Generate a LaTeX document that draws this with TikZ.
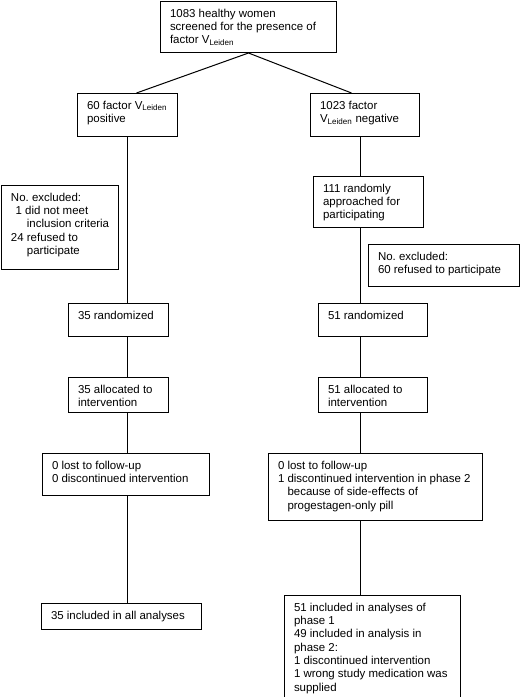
\documentclass[tikz,border=0pt]{standalone}
\usepackage{fontspec}
\setmainfont{Liberation Sans}
\frenchspacing
\newdimen\pxu \pxu=0.75pt
\newdimen\padx \padx=9.5\pxu
\newdimen\pady \pady=7.5\pxu
\newcommand\pb[3]{\parbox[t][\dimexpr#2\pxu-2\pady\relax][t]{\dimexpr#1\pxu-2\padx\relax}{\raggedright #3}}
\begin{document}
\begin{tikzpicture}[x=0.75pt,y=-0.75pt,
  fbox/.style={draw, line width=0.75pt, anchor=north west, inner xsep=\padx, inner ysep=\pady,
    font=\fontsize{8.6}{10}\selectfont},
  conn/.style={line width=0.75pt}]
\clip (0,0) rectangle (520,697);
\fill[white] (0,0) rectangle (520,697);
% boxes
\node[fbox] (top) at (160,1) {\pb{176}{51}{1083 healthy women\\\mbox{screened for the presence of}\\factor V\textsubscript{Leiden}}};
\node[fbox] (pos) at (77,93) {\pb{100}{43}{\mbox{60 factor V\textsubscript{Leiden}}\\positive}};
\node[fbox] (neg) at (310,93) {\pb{109}{43}{1023 factor\\\mbox{V\textsubscript{Leiden} negative}}};
\node[fbox] (exclL) at (1,185) {\pb{117}{84}{No. excluded:\\\hspace*{0.4em}1 did not meet\\\hspace*{1.39em}\mbox{inclusion criteria}\\24 refused to\\\hspace*{1.39em}participate}};
\node[fbox] (appr) at (313,176) {\pb{110}{51}{111 randomly\\approached for\\participating}};
\node[fbox] (exclR) at (368,244) {\pb{151}{42}{No. excluded:\\\mbox{60 refused to participate}}};
\node[fbox] (randL) at (68,303) {\pb{100}{33}{35 randomized}};
\node[fbox] (randR) at (318,303) {\pb{109}{33}{51 randomized}};
\node[fbox] (allocL) at (68,377) {\pb{100}{35}{35 allocated to\\intervention}};
\node[fbox] (allocR) at (318,377) {\pb{109}{35}{51 allocated to\\intervention}};
\node[fbox] (lostL) at (42,453) {\pb{167}{42}{0 lost to follow-up\\\mbox{0 discontinued intervention}}};
\node[fbox] (lostR) at (268,453) {\pb{214}{67}{0 lost to follow-up\\\mbox{1 discontinued intervention in phase 2}\\\hspace*{0.83em}because of side-effects of\\\hspace*{0.83em}progestagen-only pill}};
\node[fbox] (inclL) at (41,603) {\pb{160}{26}{\mbox{35 included in all analyses}}};
\node[fbox] (inclR) at (284,595) {\pb{176}{115}{\mbox{51 included in analyses of}\\phase 1\\\mbox{49 included in analysis in}\\phase 2:\\\mbox{1 discontinued intervention}\\\mbox{1 wrong study medication was}\\supplied}};
% connectors
\coordinate (sR) at (360,0);
\draw[conn] (top.south) -- ([xshift=6.75pt]pos.north);
\draw[conn] (top.south) -- ([xshift=-10.1pt]neg.north);
\draw[conn] (pos.south) -- (pos.south |- randL.north);
\draw[conn] (randL.south -| pos.south) -- (allocL.north -| pos.south);
\draw[conn] (allocL.south -| pos.south) -- (lostL.north -| pos.south);
\draw[conn] (lostL.south -| pos.south) -- (inclL.north -| pos.south);
\draw[conn] (neg.south -| sR) -- (appr.north -| sR);
\draw[conn] (appr.south -| sR) -- (randR.north -| sR);
\draw[conn] (randR.south -| sR) -- (allocR.north -| sR);
\draw[conn] (allocR.south -| sR) -- (lostR.north -| sR);
\draw[conn] (lostR.south -| sR) -- (inclR.north -| sR);
\end{tikzpicture}
\end{document}
